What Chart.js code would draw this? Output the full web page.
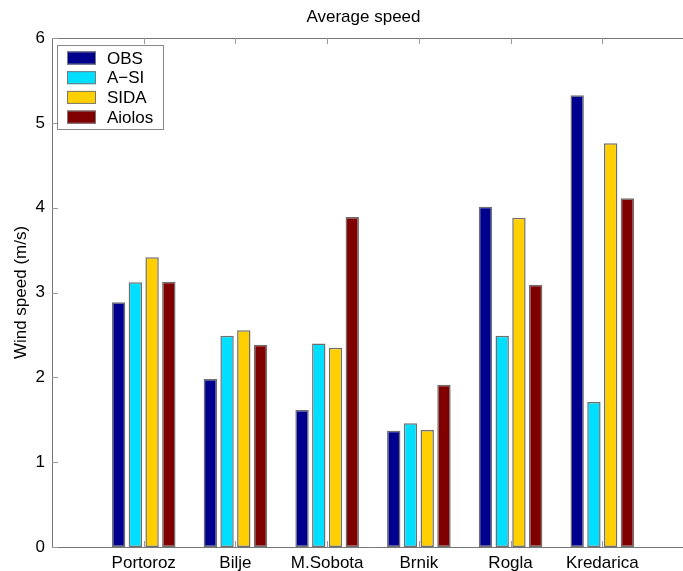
<!DOCTYPE html>
<html>
<head>
<meta charset="utf-8">
<script src="https://cdn.jsdelivr.net/npm/chart.js@4/dist/chart.umd.min.js"></script>
<style>
html,body{margin:0;padding:0;background:#fff;overflow:hidden;width:683px;height:571px;}
#wrap{position:absolute;left:0;top:0;width:727px;height:571px;}
</style>
</head>
<body>
<div id="wrap"><canvas id="c" width="727" height="571"></canvas></div>
<script>
const stations = ['Portoroz','Bilje','M.Sobota','Brnik','Rogla','Kredarica'];
const obs    = [2.885, 1.98, 1.615, 1.37, 4.01, 5.325];
const asi    = [3.12, 2.49, 2.40, 1.46, 2.49, 1.71];
const sida   = [3.415, 2.555, 2.35, 1.38, 3.88, 4.76];
const aiolos = [3.127, 2.385, 3.89, 1.913, 3.09, 4.11];
const yTicks = [0,1,2,3,4,5,6];
const chartTitle = 'Average speed';

const seriesNames = ['OBS','A\u2212SI','SIDA','Aiolos'];
const colors = ['#00008f','#00dfff','#ffcf00','#800000'];

// pad with an empty category on each side (axis spans 0..7)
const labels = [''].concat(stations, ['']);
const pad = a => [null].concat(a, [null]);

const FONT = 'Liberation Sans, Arial, Helvetica, sans-serif';

const innerTicks = {
  id: 'innerTicks',
  afterDatasetsDraw(chart) {
    const {ctx, chartArea: a, scales: {x, y}} = chart;
    ctx.save();
    ctx.strokeStyle = '#777';
    ctx.lineWidth = 1;
    ctx.beginPath();
    ctx.moveTo(a.left, Math.round(a.top) + 0.5);
    ctx.lineTo(a.right, Math.round(a.top) + 0.5);
    ctx.stroke();
    ctx.strokeStyle = '#999';
    for (let i = 1; i <= stations.length; i++) {
      const px = Math.round(x.getPixelForValue(i)) + 0.5;
      ctx.beginPath();
      ctx.moveTo(px, a.bottom); ctx.lineTo(px, a.bottom - 6);
      ctx.moveTo(px, a.top); ctx.lineTo(px, a.top + 6);
      ctx.stroke();
    }
    yTicks.forEach(v => {
      const py = Math.round(y.getPixelForValue(v)) + 0.5;
      ctx.beginPath();
      ctx.moveTo(a.left, py); ctx.lineTo(a.left + 6, py);
      ctx.stroke();
    });
    ctx.restore();
  }
};

const titleText = {
  id: 'titleText',
  afterDraw(chart) {
    const {ctx} = chart;
    ctx.save();
    ctx.font = '17px ' + FONT;
    ctx.fillStyle = '#000';
    ctx.textAlign = 'center';
    ctx.textBaseline = 'middle';
    ctx.fillText(chartTitle, chart.width / 2, 17);
    ctx.restore();
  }
};

const boxLegend = {
  id: 'boxLegend',
  afterDraw(chart) {
    const {ctx, chartArea: a} = chart;
    const x0 = a.left + 5, y0 = a.top + 7, w = 106, h = 84;
    ctx.save();
    ctx.fillStyle = '#fff';
    ctx.fillRect(x0, y0, w, h);
    ctx.strokeStyle = '#888';
    ctx.lineWidth = 1;
    ctx.strokeRect(x0 + 0.5, y0 + 0.5, w, h);
    ctx.font = '17px ' + FONT;
    ctx.textBaseline = 'middle';
    chart.data.datasets.forEach((ds, i) => {
      const cy = y0 + 13 + i * 19.7;
      ctx.fillStyle = ds.backgroundColor;
      ctx.fillRect(x0 + 10, cy - 6.5, 29, 13);
      ctx.strokeStyle = '#777';
      ctx.strokeRect(x0 + 10.5, cy - 6, 28, 12);
      ctx.fillStyle = '#000';
      ctx.fillText(ds.label, x0 + 50, cy + 1);
    });
    ctx.restore();
  }
};

new Chart(document.getElementById('c'), {
  type: 'bar',
  data: {
    labels: labels,
    datasets: [obs, asi, sida, aiolos].map((d, i) => ({
      label: seriesNames[i],
      data: pad(d),
      backgroundColor: colors[i],
      borderColor: '#6f6f6f',
      borderWidth: 1.5,
      borderSkipped: false,
      categoryPercentage: 0.73,
      barPercentage: 0.8
    }))
  },
  options: {
    responsive: false,
    animation: false,
    devicePixelRatio: 1,
    layout: {padding: {left: 0, right: 33, top: 38, bottom: 0}},
    plugins: {
      legend: {display: false},
      tooltip: {enabled: false},
      title: {display: false}
    },
    scales: {
      x: {
        offset: false,
        grid: {display: false, drawTicks: false},
        border: {display: true, color: '#777', width: 1},
        ticks: {color: '#000', font: {family: FONT, size: 17}, padding: 6, maxRotation: 0, autoSkip: false},
        afterFit(s) { s.height = 24; }
      },
      y: {
        min: 0, max: 6,
        afterBuildTicks(s) { s.ticks = yTicks.map(v => ({value: v})); },
        grid: {display: false, drawTicks: false},
        border: {display: true, color: '#777', width: 1},
        ticks: {color: '#000', font: {family: FONT, size: 17}, padding: 7},
        title: {display: true, text: 'Wind speed (m/s)', color: '#000', font: {family: FONT, size: 17}, padding: {top: 11, bottom: 0}},
        afterFit(s) { s.width = 52; }
      }
    }
  },
  plugins: [innerTicks, boxLegend, titleText]
});
</script>
</body>
</html>
